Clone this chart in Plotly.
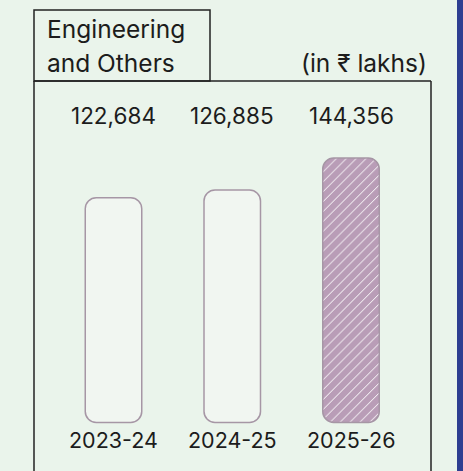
import plotly.graph_objects as go

# ---- data ----
categories = ["2023-24", "2024-25", "2025-26"]
values = [122684, 126885, 144356]
value_labels = ["122,684", "126,885", "144,356"]
title_lines = ["Engineering", "and Others"]
unit_label = "(in ₹ lakhs)"
hatched = [False, False, True]      # the projected year is hatched

# ---- layout geometry (pixels) ----
W, H = 463, 471
X0_PX, STEP_PX = 113.5, 118.75      # centre of first category, spacing
BASE_PX, TOP_PX = 422.5, 158.0      # zero line, top of the largest bar
BAR_W_PX = 56.5

upp = max(values) / (BASE_PX - TOP_PX)           # data units per pixel
xr = [(0 - X0_PX) / STEP_PX, (W - X0_PX) / STEP_PX]
yr = [-(H - BASE_PX) * upp, BASE_PX * upp]

def px(p):  # x pixel -> paper
    return p / W

def py(p):  # y pixel -> paper
    return 1 - p / H

BG = "#EAF4EB"
FILL = "#F1F6F1"
EDGE = "#A696A5"
HATCH_BG = "#B99DB7"
FONT = "Inter"
TXT = "#1c1c1c"

fig = go.Figure()
plain_x = [c for c, h in zip(categories, hatched) if not h]
plain_y = [v for v, h in zip(values, hatched) if not h]
hatch_x = [c for c, h in zip(categories, hatched) if h]
hatch_y = [v for v, h in zip(values, hatched) if h]

fig.add_trace(go.Bar(
    x=plain_x, y=plain_y, base=[0] * len(plain_y),
    width=BAR_W_PX / STEP_PX,
    marker=dict(color=FILL, cornerradius=11, opacity=1,
                line=dict(color=EDGE, width=1.5)),
    hoverinfo="skip", showlegend=False,
))
fig.add_trace(go.Bar(
    x=hatch_x, y=hatch_y, base=[0] * len(hatch_y),
    width=BAR_W_PX / STEP_PX,
    marker=dict(color=HATCH_BG, cornerradius=11, opacity=1,
                line=dict(color=EDGE, width=1.5),
                pattern=dict(shape="/", fillmode="replace",
                             fgcolor="#ffffff", bgcolor=HATCH_BG,
                             size=7, solidity=0.14, fgopacity=1)),
    hoverinfo="skip", showlegend=False,
))

def txt(s, x, y, xref, xanchor, size):
    return dict(text=s, x=x, y=y, xref=xref, yref="paper", xanchor=xanchor,
                yanchor="middle", showarrow=False,
                font=dict(family=FONT, size=size, color=TXT))

ann = [
    txt(title_lines[0], px(45), py(29), "paper", "left", 24.5),
    txt(title_lines[1], px(45), py(63), "paper", "left", 24.5),
    txt(unit_label, px(429), py(63), "paper", "right", 24.5),
]
for c, lab in zip(categories, value_labels):
    ann.append(txt(lab, c, py(116), "x", "center", 22.5))
    ann.append(txt(c, c, py(440), "x", "center", 21.5))

LINE = dict(color="#222222", width=1.5)
shapes = [
    dict(type="rect", xref="paper", yref="paper", x0=px(34), x1=px(210),
         y0=py(81), y1=py(10), line=LINE, layer="above"),
    dict(type="line", xref="paper", yref="paper", x0=px(34), x1=px(431),
         y0=py(81), y1=py(81), line=LINE),
    dict(type="line", xref="paper", yref="paper", x0=px(34), x1=px(34),
         y0=py(81), y1=py(480), line=LINE),
    dict(type="line", xref="paper", yref="paper", x0=px(431), x1=px(431),
         y0=py(81), y1=py(480), line=LINE),
    dict(type="rect", xref="paper", yref="paper", x0=px(457), x1=px(470),
         y0=py(480), y1=py(-10), fillcolor="#2E3E91", line=dict(width=0)),
]

fig.update_layout(
    width=W, height=H, autosize=False,
    margin=dict(l=0, r=0, t=0, b=0, pad=0),
    paper_bgcolor=BG, plot_bgcolor=BG,
    barmode="overlay",
    xaxis=dict(range=xr, visible=False, fixedrange=True,
               categoryorder="array", categoryarray=categories),
    yaxis=dict(range=yr, visible=False, fixedrange=True),
    annotations=ann, shapes=shapes, showlegend=False,
)

fig.write_html(
    "out.html",
    config={"displayModeBar": False, "staticPlot": True},
    post_script="document.body.style.margin='0';document.body.style.overflow='hidden';"
                "document.body.style.background='" + BG + "';",
)
